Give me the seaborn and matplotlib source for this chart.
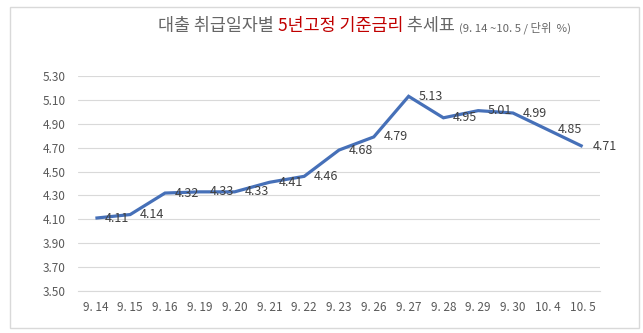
import matplotlib
matplotlib.use("Agg")
import matplotlib.pyplot as plt
import seaborn as sns
import pandas as pd
import numpy as np
from matplotlib.patches import Rectangle

dates = ["9. 14", "9. 15", "9. 16", "9. 19", "9. 20", "9. 21", "9. 22", "9. 23",
         "9. 26", "9. 27", "9. 28", "9. 29", "9. 30", "10. 4", "10. 5"]
rates = [4.11, 4.14, 4.32, 4.33, 4.33, 4.41, 4.46, 4.68, 4.79, 5.13, 4.95, 5.01, 4.99, 4.85, 4.71]
yticks = [3.50, 3.70, 3.90, 4.10, 4.30, 4.50, 4.70, 4.90, 5.10, 5.30]

sns.set_theme(style="white")
plt.rcParams['font.family'] = ['Noto Sans CJK KR', 'DejaVu Sans']

df = pd.DataFrame({"idx": np.arange(len(dates)), "date": dates, "rate": rates})

fig = plt.figure(figsize=(6.43, 3.33), dpi=100)
fig.patch.set_facecolor("white")
fig.patches.append(Rectangle((10/643, 1-328/333), 629/643, 321/333, transform=fig.transFigure,
                             fill=False, edgecolor="#D9D9D9", linewidth=1.0))

ax = fig.add_axes([78/643, 1-291/333, 522/643, 215/333])
sns.lineplot(data=df, x="idx", y="rate", ax=ax, color="#4670B8", linewidth=2.3,
             solid_joinstyle="miter", solid_capstyle="butt")

ax.set_xlim(-0.5, len(dates)-0.5)
ax.set_ylim(3.50, 5.30)
ax.set_yticks(yticks)
ax.set_yticklabels([f"{v:.2f}" for v in yticks])
ax.set_xticks(df["idx"])
ax.set_xticklabels(dates)
ax.set_xticks(np.arange(-0.5, len(dates), 1.0), minor=True)
ax.tick_params(axis="x", which="major", length=0, pad=7, labelsize=8.5, labelcolor="#595959")
ax.tick_params(axis="x", which="minor", length=5, width=0.8, color="#D9D9D9", direction="out")
ax.tick_params(axis="y", length=0, pad=9, labelsize=8.5, labelcolor="#595959")
ax.set_xlabel("")
ax.set_ylabel("")
ax.grid(axis="y", color="#D9D9D9", linewidth=0.8)
ax.grid(axis="x", visible=False)
for s in ["left", "right", "top"]:
    ax.spines[s].set_visible(False)
ax.spines["bottom"].set_color("#D9D9D9")
ax.spines["bottom"].set_linewidth(0.8)
ax.set_axisbelow(True)

for i, v in zip(df["idx"], df["rate"]):
    ax.annotate(f"{v:.2f}", (i, v), xytext=(7, 0), textcoords="offset points",
                ha="left", va="center", fontsize=9, color="#404040")

# Title built from pieces
pieces = [("대출 취급일자별 ", "#666666", 12.5),
          ("5년고정 기준금리", "#C00000", 12.5),
          (" 추세표 ", "#666666", 12.5),
          ("(9. 14 ~10. 5 / 단위  %)", "#666666", 8.2)]
fig.canvas.draw()
renderer = fig.canvas.get_renderer()
x = 158
for txt, col, fs in pieces:
    t = fig.text(x/643, 1-31/333, txt, color=col, fontsize=fs, ha="left", va="baseline")
    bb = t.get_window_extent(renderer=renderer)
    x += bb.width

fig.savefig("out.png", dpi=100)
